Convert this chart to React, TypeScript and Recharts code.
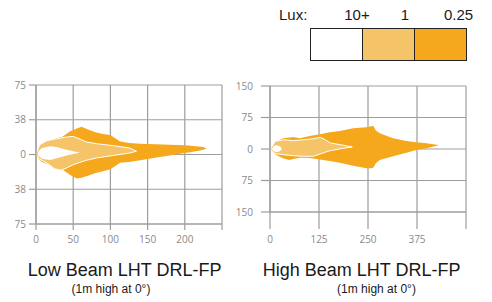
import React from 'react';
import { ComposedChart, Area, XAxis, YAxis, CartesianGrid } from 'recharts';

// ---- Low beam (left panel) ----
const lowXTicks = [0, 50, 100, 150, 200, 250];
const lowYTicks = [-75, -37.5, 0, 37.5, 75];

const lowOuterX = [0, 3, 8, 15, 25, 35, 46, 55, 61, 70, 80, 90, 100, 113, 125, 140, 160, 180, 200, 215, 225, 229];
const lowOuterTop = [0, 6, 11, 14, 17, 19, 25, 28, 30, 27, 24, 22, 21, 14, 12.5, 11.5, 11, 10.5, 10, 9, 8, 6.5];
const lowOuterBottom = [0, -4, -8, -10, -13, -16, -22, -26, -25, -23, -20, -18, -16, -9, -8, -6.3, -3.5, -1, 1.5, 3.5, 5, 6.5];

const lowMidX = [0, 1, 5, 15, 25, 34, 41, 50, 59, 68, 81, 104, 126, 135];
const lowMidTop = [0, 2, 10.6, 15, 16.5, 17.8, 18.9, 19.5, 16.7, 13.5, 11.7, 9.5, 7, 3.5];
const lowMidBottom = [0, -1, -5, -9.3, -15.5, -17, -14.6, -11, -8.5, -6.2, -3.8, -1, 1.6, 3.5];

const lowInnerX = [2, 4, 8, 19, 28, 41, 50, 59];
const lowInnerTop = [0, 4, 7, 9, 8, 5, 3.5, 2];
const lowInnerBottom = [0, -2, -4.5, -6, -4, -1, 0.5, 2];

// ---- High beam (right panel) ----
const highXTicks = [0, 125, 250, 375, 500];
const highYTicks = [-150, -75, 0, 75, 150];

const highOuterX = [0, 4, 16, 33, 50, 59, 76, 101, 127, 152, 178, 212, 246, 258, 264, 270, 280, 314, 348, 373, 399, 416, 431];
const highOuterTop = [0, 6, 17.4, 25.5, 27.5, 28.6, 25.5, 31, 35, 39.8, 42.9, 49.3, 51.7, 54, 55, 44, 37.3, 25.5, 19, 16, 13.5, 11.5, 9.5];
const highOuterBottom = [0, -5, -14.3, -22, -26, -24, -20.6, -21.5, -25, -28.6, -33, -40, -46, -46, -44, -34, -26, -17, -9, -2.4, 1.5, 5.5, 9.5];

const highMidX = [2, 5, 13.5, 35, 60, 86, 111, 128, 141, 154, 180, 210];
const highMidTop = [0, 6.4, 18.3, 22, 19.8, 22, 24.5, 27.8, 22, 14.3, 10.2, 4.8];
const highMidBottom = [0, -5.5, -11, -13.6, -16, -17.4, -17.4, -11.9, -7.5, -4, 0.7, 4.8];

const highInnerX = [5, 8, 15, 22, 28, 30];
const highInnerTop = [0, 6, 8.8, 8, 4, 0];
const highInnerBottom = [0, -5, -7, -6.5, -3, 0];

// ---- Legend ----
const luxLabels = ['10+', '1', '0.25'];
const luxColors = ['#FFFFFF', '#F5C468', '#F5A81C'];

const build = (xs: number[], top: number[], bottom: number[]) =>
  xs.map((x, i) => ({ x, range: [bottom[i], top[i]] }));

const GRID = '#9d9d9d';
const TICK = { fill: '#8a8a8a', fontSize: 10, fontFamily: 'Open Sans, sans-serif' };

const absInt = (v: number) => String(Math.round(Math.abs(v)));

function Panel(props: {
  width: number; top: number; right: number; bottom: number; yWidth: number;
  xTicks: number[]; yTicks: number[]; xMax: number; yMax: number;
  ySize: number; yMargin: number; xSize: number; xMargin: number;
  outer: any[]; mid: any[]; inner: any[];
}) {
  const lastX = props.xTicks[props.xTicks.length - 1];
  return (
    <ComposedChart width={props.width} height={302}
      margin={{ top: props.top, right: props.right, bottom: props.bottom, left: 0 }}>
      <CartesianGrid stroke={GRID} strokeWidth={1.2} />
      <XAxis type="number" dataKey="x" domain={[0, props.xMax]} ticks={props.xTicks}
        allowDataOverflow height={30}
        tickFormatter={(v: number) => (v === lastX ? '' : String(v))}
        tickSize={props.xSize} tickMargin={props.xMargin}
        axisLine={{ stroke: GRID, strokeWidth: 1.2 }} tickLine={{ stroke: GRID, strokeWidth: 1.2 }}
        tick={TICK} />
      <YAxis type="number" domain={[-props.yMax, props.yMax]} ticks={props.yTicks}
        allowDataOverflow width={props.yWidth} tickFormatter={absInt}
        tickSize={props.ySize} tickMargin={props.yMargin}
        axisLine={{ stroke: GRID, strokeWidth: 1.2 }} tickLine={{ stroke: GRID, strokeWidth: 1.2 }}
        tick={TICK} />
      <Area data={props.outer} dataKey="range" type="linear" fill="#F5A81C" fillOpacity={1}
        stroke="none" isAnimationActive={false} dot={false} activeDot={false} />
      <Area data={props.mid} dataKey="range" type="linear" fill="#F5C468" fillOpacity={1}
        stroke="#FFFFFF" strokeWidth={1} isAnimationActive={false} dot={false} activeDot={false} />
      <Area data={props.inner} dataKey="range" type="linear" fill="#FFFFFF" fillOpacity={1}
        stroke="none" isAnimationActive={false} dot={false} activeDot={false} />
    </ComposedChart>
  );
}

const textBase: React.CSSProperties = {
  position: 'absolute', fontFamily: 'Liberation Sans, Arial, sans-serif', color: '#1a1a1a',
  whiteSpace: 'nowrap', textAlign: 'center',
};

export default function App() {
  return (
    <div style={{ position: 'absolute', left: 0, top: 0, width: 492, height: 302, background: '#fff', overflow: 'hidden' }}>
      <div style={{ position: 'absolute', left: 0, top: 0 }}>
        <Panel width={246} top={85} right={24} bottom={48} yWidth={36}
          xTicks={lowXTicks} yTicks={lowYTicks} xMax={250} yMax={75}
          ySize={7} yMargin={3} xSize={6} xMargin={6}
          outer={build(lowOuterX, lowOuterTop, lowOuterBottom)}
          mid={build(lowMidX, lowMidTop, lowMidBottom)}
          inner={build(lowInnerX, lowInnerTop, lowInnerBottom)} />
      </div>
      <div style={{ position: 'absolute', left: 226, top: 0 }}>
        <Panel width={266} top={86} right={26} bottom={60} yWidth={44}
          xTicks={highXTicks} yTicks={highYTicks} xMax={500} yMax={150}
          ySize={9} yMargin={8} xSize={17} xMargin={7}
          outer={build(highOuterX, highOuterTop, highOuterBottom)}
          mid={build(highMidX, highMidTop, highMidBottom)}
          inner={build(highInnerX, highInnerTop, highInnerBottom)} />
      </div>

      {/* Legend */}
      <div style={{ ...textBase, left: 279, top: 7, fontSize: 15, lineHeight: '15px', textAlign: 'left' }}>Lux:</div>
      {luxLabels.map((l, i) => (
        <div key={l} style={{ ...textBase, left: [357, 405, 458.5][i] - 30, width: 60, top: 7, fontSize: 15, lineHeight: '15px' }}>{l}</div>
      ))}
      <div style={{ position: 'absolute', left: 310, top: 28, width: 157, height: 33, border: '1px solid #222', boxSizing: 'border-box', display: 'flex' }}>
        {luxColors.map((c, i) => (
          <div key={c} style={{ flex: 1, background: c, borderLeft: i > 0 ? '1px solid #222' : 'none' }} />
        ))}
      </div>

      {/* Titles */}
      <div style={{ ...textBase, left: 124.7 - 120, width: 240, top: 261, fontSize: 18, lineHeight: '18px' }}>Low Beam LHT DRL-FP</div>
      <div style={{ ...textBase, left: 111 - 60, width: 120, top: 283, fontSize: 12, lineHeight: '12px' }}>(1m high at 0°)</div>
      <div style={{ ...textBase, left: 361.7 - 120, width: 240, top: 261, fontSize: 18, lineHeight: '18px' }}>High Beam LHT DRL-FP</div>
      <div style={{ ...textBase, left: 376.5 - 60, width: 120, top: 283, fontSize: 12, lineHeight: '12px' }}>(1m high at 0°)</div>
    </div>
  );
}
